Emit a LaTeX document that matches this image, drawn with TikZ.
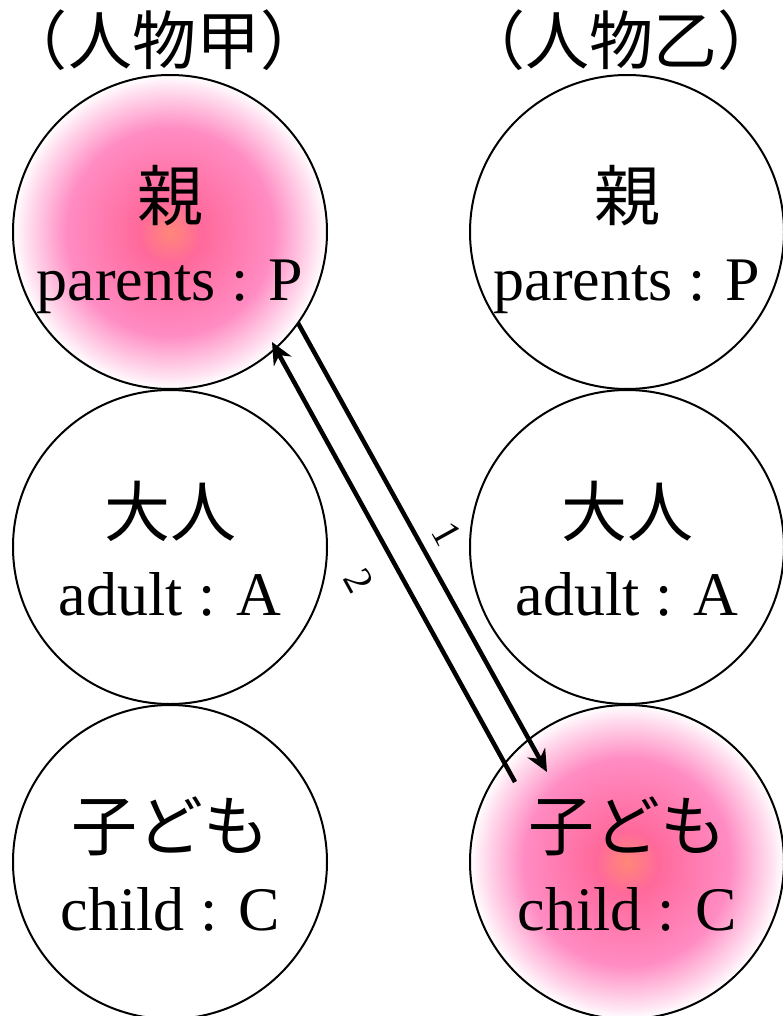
\documentclass[tikz,border=0pt]{standalone}
\usepackage{fontspec}
\setmainfont{Liberation Serif}
\newfontfamily\cjk{Noto Sans CJK JP}
\usetikzlibrary{arrows.meta,calc}
\definecolor{pkA}{RGB}{255,135,120}
\definecolor{pkB}{RGB}{255,105,155}
\definecolor{pkC}{RGB}{255,140,195}
\definecolor{pkD}{RGB}{255,225,240}
\pgfdeclareradialshading{pinkglow}{\pgfpoint{0bp}{0bp}}{color(0bp)=(pkA); color(5bp)=(pkB); color(16.5bp)=(pkC); color(23bp)=(pkD); color(25bp)=(white); color(50bp)=(white)}
\begin{document}
\begin{tikzpicture}[x=1pt,y=1pt,
  person/.style={circle, draw=black, line width=2pt, minimum size=314pt, inner sep=0pt},
  lit/.style={person, shade, shading=pinkglow},
  jp/.style={font=\cjk\fontsize{66}{66}\selectfont, inner sep=0pt},
  title/.style={font=\cjk\fontsize{64}{64}\selectfont, inner sep=0pt},
  en/.style={font=\fontsize{62}{62}\selectfont, inner sep=0pt, anchor=base},
  conn/.style={line width=4.5pt, -{Stealth[length=22pt,width=20pt,inset=7pt]}},
  num/.style={font=\fontsize{40}{40}\selectfont, sloped, inner sep=0pt}]
\useasboundingbox (0,0) rectangle (782,-1016);
\node[lit] (P1) at (170,-232) {};
\node[person] (A1) at (170,-547) {};
\node[person] (C1) at (170,-862) {};
\node[person] (P2) at (627,-232) {};
\node[person] (A2) at (627,-547) {};
\node[lit] (C2) at (627,-862) {};
\node[title] (T1) at (164,-40) {（人物甲）};
\node[title] (T2) at (621,-40) {（人物乙）};
\node[jp] (P1j) at ($(P1)+(0,36)$) {親};
\node[en] (P1e) at ($(P1)+(0,-68)$) {parents : P};
\node[jp] (A1j) at ($(A1)+(0,36)$) {大人};
\node[en] (A1e) at ($(A1)+(0,-68)$) {adult : A};
\node[jp] (C1j) at ($(C1)+(0,36)$) {子ども};
\node[en] (C1e) at ($(C1)+(0,-68)$) {child : C};
\node[jp] (P2j) at ($(P2)+(0,36)$) {親};
\node[en] (P2e) at ($(P2)+(0,-68)$) {parents : P};
\node[jp] (A2j) at ($(A2)+(0,36)$) {大人};
\node[en] (A2e) at ($(A2)+(0,-68)$) {adult : A};
\node[jp] (C2j) at ($(C2)+(0,36)$) {子ども};
\node[en] (C2e) at ($(C2)+(0,-68)$) {child : C};
\coordinate (a1s) at ($(P1)+(128,-91)$);
\coordinate (a1e) at ($(C2)+(-80,90)$);
\coordinate (a2s) at ($(C2)+(-112,80)$);
\coordinate (a2e) at ($(P1)+(102,-110)$);
\draw[conn] (a1s) -- node[num, above=13pt] {1} (a1e);
\draw[conn] (a2s) -- node[num, below=24pt] {2} (a2e);
\end{tikzpicture}
\end{document}
